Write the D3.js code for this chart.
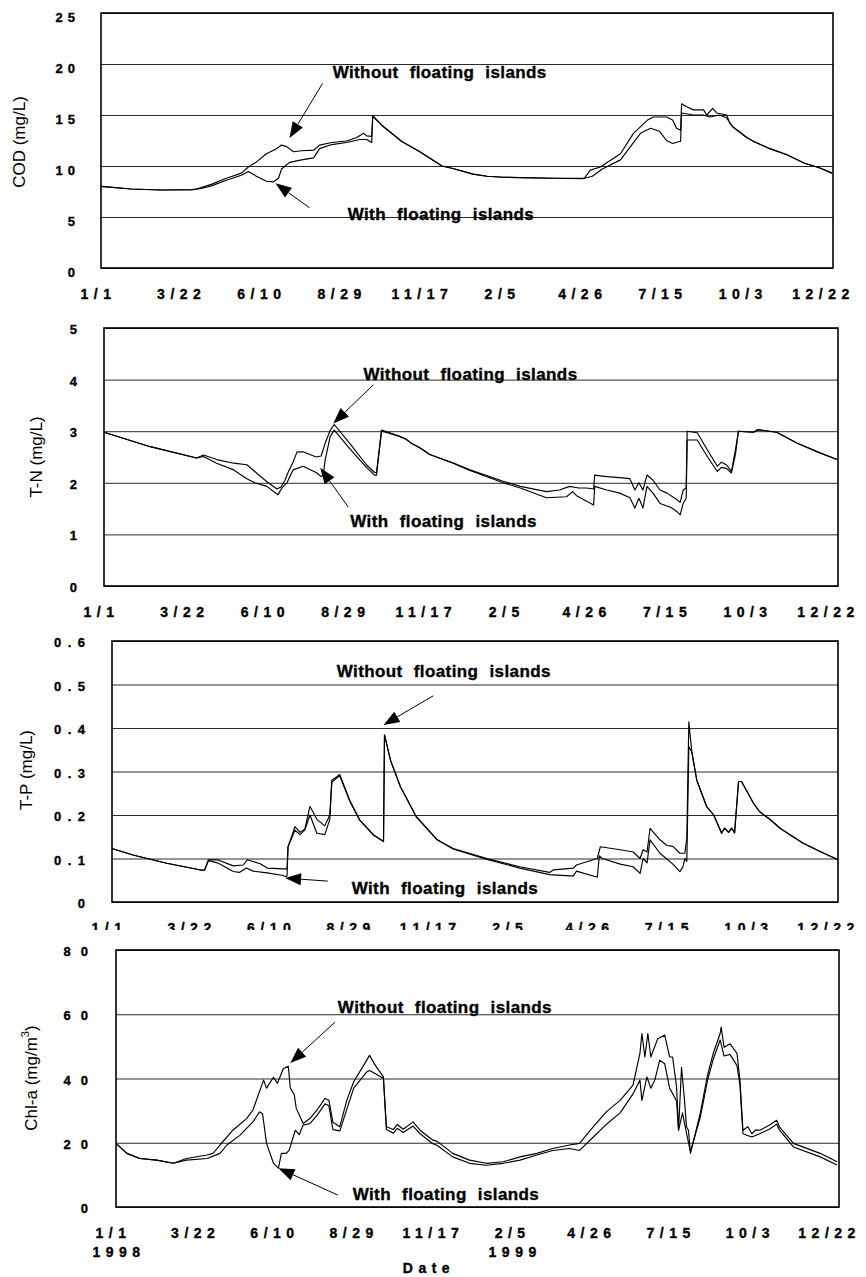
<!DOCTYPE html>
<html><head><meta charset="utf-8">
<script src="https://cdn.jsdelivr.net/npm/d3@7"></script>
<style>body{margin:0;background:#fff}svg{display:block}</style>
</head><body>
<script>
// ---- DATA (day 0 = 1 Jan 1998) ----
const tickDays = [0, 80, 160, 240, 320, 400, 480, 560, 640, 720];
const tickLabels = ["1/1", "3/22", "6/10", "8/29", "11/17", "2/5", "4/26", "7/15", "10/3", "12/22"];
const yearDays = [0, 400];
const yearLabels = ["1998", "1999"];

const codTicks = [0, 5, 10, 15, 20, 25];
const tnTicks = [0, 1, 2, 3, 4, 5];
const tpTicks = [0, 0.1, 0.2, 0.3, 0.4, 0.5, 0.6];
const chlTicks = [0, 20, 40, 60, 80];

const codWithout = [[0,8.0],[30,7.75],[60,7.65],[90,7.7],[95,7.75],[110,8.2],[125,8.8],[140,9.3],[147,9.9],[155,10.4],[165,11.2],[175,11.7],[180,12.05],[185,11.9],[192,11.4],[200,11.5],[212,11.55],[218,12.05],[230,12.3],[245,12.45],[255,12.8],[262,13.2],[265,12.95],[270,12.9],[271,14.9],[280,14.0],[300,12.4],[318,11.4],[340,10.0],[351,9.75],[371,9.2],[385,9.0],[401,8.9],[451,8.8],[482,8.8],[488,9.6],[498,9.9],[518,11.2],[531,13.2],[545,14.5],[551,14.8],[564,14.8],[570,14.5],[574,13.7],[578,13.5],[579,16.1],[584,15.8],[591,15.5],[601,15.5],[604,15.0],[610,15.65],[614,15.2],[624,15.0],[627,14.2],[630,13.85],[644,12.8],[651,12.4],[667,11.7],[684,11.1],[701,10.3],[717,9.8],[729,9.3]];
const codWith = [[0,8.0],[30,7.75],[60,7.65],[90,7.65],[100,7.8],[110,8.05],[125,8.6],[140,9.1],[147,9.45],[155,9.0],[165,8.5],[172,8.45],[177,8.8],[180,9.7],[188,10.35],[200,10.6],[212,10.8],[218,11.7],[230,12.1],[245,12.3],[258,12.6],[265,12.6],[270,12.3],[271,14.9],[280,14.0],[300,12.4],[318,11.4],[340,10.0],[351,9.75],[371,9.2],[385,9.0],[401,8.9],[451,8.8],[480,8.75],[490,9.0],[500,9.7],[518,10.6],[528,11.9],[538,13.2],[548,13.7],[557,13.4],[564,12.5],[570,12.2],[577,12.4],[578,12.4],[579,15.2],[591,15.0],[601,15.0],[607,14.8],[617,15.0],[624,14.7],[630,13.85],[644,12.8],[651,12.4],[667,11.7],[684,11.1],[701,10.3],[717,9.8],[729,9.3]];

const tnWithout = [[0,2.98],[46,2.7],[92,2.48],[99,2.54],[112,2.45],[129,2.38],[142,2.35],[150,2.22],[162,2.02],[172,1.88],[176,1.92],[180,2.05],[183,2.2],[188,2.4],[192,2.6],[198,2.6],[211,2.5],[216,2.52],[220,2.77],[225,3.02],[229,3.13],[245,2.75],[261,2.35],[269,2.2],[271,2.2],[276,3.02],[280,3.0],[294,2.9],[300,2.85],[307,2.75],[314,2.68],[324,2.55],[347,2.39],[364,2.25],[397,2.03],[414,1.93],[440,1.83],[453,1.86],[463,1.93],[472,1.9],[480,1.9],[487,1.88],[488,2.15],[500,2.12],[513,2.1],[523,2.08],[528,1.86],[532,2.0],[536,1.86],[540,2.15],[546,2.05],[553,1.86],[560,1.8],[570,1.67],[573,1.62],[576,1.86],[579,1.9],[580,3.0],[590,2.97],[600,2.64],[610,2.32],[614,2.4],[619,2.35],[624,2.22],[628,2.64],[631,3.0],[646,2.98],[650,3.03],[669,2.98],[689,2.77],[712,2.58],[729,2.45]];
const tnWith = [[0,2.98],[46,2.7],[92,2.48],[99,2.51],[112,2.38],[129,2.25],[142,2.08],[150,2.0],[162,1.93],[173,1.77],[177,1.9],[182,2.0],[188,2.25],[198,2.32],[211,2.2],[216,2.12],[218,2.15],[220,2.45],[225,2.9],[229,3.02],[245,2.65],[261,2.3],[269,2.15],[271,2.15],[276,3.0],[280,2.98],[294,2.9],[300,2.85],[307,2.75],[314,2.68],[324,2.55],[347,2.38],[364,2.24],[397,2.0],[414,1.9],[440,1.71],[460,1.73],[466,1.83],[470,1.75],[487,1.57],[488,1.93],[500,1.86],[513,1.8],[523,1.71],[528,1.51],[532,1.7],[536,1.51],[540,1.93],[546,1.8],[553,1.6],[564,1.52],[570,1.44],[573,1.38],[576,1.6],[579,1.7],[580,2.83],[590,2.83],[600,2.51],[610,2.22],[614,2.3],[619,2.28],[624,2.19],[628,2.55],[631,3.0],[646,2.98],[650,3.03],[669,2.98],[689,2.77],[712,2.58],[729,2.45]];

const tpWithout = [[0,0.123],[21,0.108],[55,0.089],[88,0.074],[93,0.073],[97,0.097],[106,0.097],[122,0.083],[132,0.085],[136,0.097],[149,0.088],[156,0.078],[172,0.076],[176,0.076],[177,0.127],[184,0.173],[189,0.16],[194,0.168],[199,0.22],[206,0.19],[214,0.175],[219,0.2],[221,0.28],[226,0.288],[229,0.293],[239,0.234],[249,0.189],[263,0.154],[273,0.139],[274,0.384],[280,0.326],[290,0.265],[306,0.196],[327,0.143],[343,0.123],[377,0.1],[410,0.081],[440,0.068],[444,0.074],[464,0.078],[467,0.085],[488,0.1],[491,0.127],[511,0.12],[524,0.115],[531,0.1],[534,0.12],[538,0.115],[541,0.169],[551,0.143],[558,0.13],[564,0.128],[571,0.112],[576,0.112],[578,0.147],[580,0.414],[583,0.345],[588,0.28],[598,0.219],[605,0.2],[613,0.158],[616,0.17],[620,0.16],[623,0.17],[626,0.159],[630,0.277],[633,0.277],[645,0.227],[651,0.208],[662,0.189],[672,0.169],[695,0.135],[712,0.116],[730,0.097]];
const tpWith = [[0,0.123],[21,0.108],[55,0.089],[88,0.074],[93,0.073],[97,0.095],[106,0.09],[122,0.07],[128,0.068],[135,0.078],[142,0.071],[156,0.067],[172,0.061],[175,0.058],[176,0.06],[177,0.127],[184,0.165],[189,0.155],[194,0.166],[199,0.2],[206,0.158],[214,0.155],[219,0.19],[221,0.275],[226,0.285],[229,0.29],[239,0.232],[249,0.188],[263,0.154],[273,0.139],[274,0.384],[280,0.326],[290,0.265],[306,0.196],[327,0.143],[343,0.122],[377,0.098],[410,0.078],[440,0.063],[460,0.06],[464,0.06],[467,0.071],[488,0.057],[490,0.106],[493,0.1],[511,0.087],[524,0.081],[531,0.066],[534,0.1],[538,0.09],[541,0.143],[551,0.112],[564,0.087],[571,0.07],[574,0.08],[576,0.1],[578,0.093],[580,0.357],[583,0.345],[588,0.28],[598,0.219],[605,0.2],[613,0.158],[616,0.17],[620,0.16],[623,0.17],[626,0.159],[630,0.277],[633,0.277],[645,0.227],[651,0.208],[662,0.189],[672,0.169],[695,0.135],[712,0.116],[730,0.097]];

const chlWithout = [[0,19.8],[11,16.7],[24,15.1],[41,14.6],[58,13.6],[71,15.1],[92,16.2],[98,16.7],[105,19.3],[118,23.9],[132,27.6],[138,30],[149,39.5],[152,37],[159,40.4],[163,38.5],[169,43.1],[174,43.8],[176,37],[180,35],[182,30.7],[189,26],[196,27.6],[203,30.2],[211,33.8],[215,33.2],[219,26.4],[226,25],[233,33.2],[240,39],[250,44.1],[256,47.2],[262,44],[270,40.5],[273,25],[280,24.1],[284,25.7],[290,24.2],[300,26.5],[307,23.9],[320,20.8],[324,20.5],[340,16.7],[357,14.6],[374,13.6],[391,14.1],[408,15.6],[425,16.7],[441,18.2],[458,19.3],[468,19.8],[482,25],[495,29.6],[509,33.2],[522,37.9],[529,47.8],[531,54],[534,46.7],[537,54],[540,46.7],[547,52.4],[554,53.5],[559,46.7],[562,46.7],[566,37.4],[568,23.9],[571,43.5],[574,33.2],[576,25],[578,23.9],[580,16.7],[590,29.3],[597,40.7],[603,47.8],[610,54],[611,56],[614,49.7],[620,50.8],[627,47.8],[630,39.5],[633,23.9],[638,25],[642,22.8],[646,24],[650,23.9],[660,25.5],[667,27],[670,24.9],[684,19.8],[711,16.7],[728,14.1]];
const chlWith = [[0,19.8],[11,16.7],[24,15.1],[41,14.6],[58,13.6],[71,14.6],[92,15.1],[105,16.7],[112,19.3],[125,22.3],[138,26.4],[145,29.6],[148,29],[152,19.8],[159,13.6],[164,12.1],[167,16.7],[172,16.7],[175,17.8],[181,23.9],[185,22.5],[189,25.5],[196,26],[203,28.5],[211,32.1],[215,31.5],[219,24.1],[226,23.7],[240,37],[253,42],[256,42.5],[262,41.5],[270,40],[273,24.1],[280,23],[284,24.5],[290,23.2],[300,25.2],[307,22.8],[320,19.7],[324,19.2],[340,15.6],[357,13.6],[374,13],[391,13.6],[408,14.6],[425,16.2],[441,17.6],[458,18.2],[468,17.6],[482,21.8],[495,25.7],[509,29.3],[522,35.2],[529,39.5],[531,33.2],[536,40.5],[540,37],[544,39.5],[549,45.7],[554,44.6],[559,37],[566,33],[568,23.9],[572,29.3],[576,23],[580,17.2],[590,28],[597,39],[603,46],[610,52],[614,47],[620,47.5],[627,44],[630,38],[633,22.8],[642,21.8],[650,22.8],[660,24.3],[667,25.8],[670,23.9],[684,18.7],[711,15.6],[728,13.1]];

const seriesNames = ["Without floating islands", "With floating islands"];
// annotation anchors in data units: [textPos, arrowStart, arrowTip]
const annCOD = [[[231,18.6],[221,18.1],[188,12.75]], [[246,4.7],[208,5.9],[174,8.3]]];
const annTN  = [[[258,3.99],[268,3.9],[228,3.15]], [[245,1.14],[243,1.53],[215,2.29]]];
const annTP  = [[[226,0.517],[323,0.474],[273,0.407]], [[241,0.018],[217,0.048],[174,0.055]]];
const annCHL = [[[224,60.3],[221,57.5],[176,44.8]], [[239,2.2],[224,3.7],[164,12.1]]];

// ---- LAYOUT ----
const W = 866, H = 1277;
const FONT = "'Liberation Sans', Arial, Helvetica, sans-serif";
const panels = [
  {title:["COD (mg/L)"], series:[codWithout, codWith], ticks:codTicks, ann:annCOD, fmt:d=>String(d),
   L:101, R:833, T:13, B:268, tickRight:75, tickLS:5, tickDy:8.3, titleX:19, titleY:142},
  {title:["T-N (mg/L)"], series:[tnWithout, tnWith], ticks:tnTicks, ann:annTN, fmt:d=>String(d),
   L:104, R:838, T:328, B:586, tickRight:77, tickLS:5, tickDy:5.5, titleX:36, titleY:457},
  {title:["T-P (mg/L)"], series:[tpWithout, tpWith], ticks:tpTicks, ann:annTP, fmt:d=>d===0?"0":d.toFixed(1),
   L:112, R:838, T:641, B:902, tickRight:85, tickLS:6.5, tickDy:5.5, titleX:26, titleY:770, clipX:930},
  {title:["Chl-a (mg/m","3",")"], series:[chlWithout, chlWith], ticks:chlTicks, ann:annCHL, fmt:d=>String(d),
   L:116, R:839, T:950, B:1207, tickRight:88, tickLS:10, tickDy:5.5, titleX:31, titleY:1078, years:true}
];

const svg = d3.select("body").append("svg").attr("width", W).attr("height", H)
  .style("font-family", FONT);
const defs = svg.append("defs");

function boldText(sel, size, ls) {
  return sel.style("font-family", FONT).style("font-size", size + "px").style("font-weight", "bold")
    .style("letter-spacing", ls + "px").attr("fill", "#000")
    .attr("stroke", "#000").attr("stroke-width", 0.35);
}

panels.forEach((p, pi) => {
  const x = d3.scaleLinear().domain([0, 730]).range([p.L, p.R]);
  const y = d3.scaleLinear().domain([0, d3.max(p.ticks)]).range([p.B, p.T]);
  const g = svg.append("g");

  // gridlines + y tick labels via axis
  const yAxis = g.append("g").attr("transform", `translate(${p.L},0)`)
    .call(d3.axisLeft(y).tickValues(p.ticks).tickFormat(p.fmt).tickSize(-(p.R - p.L)));
  yAxis.select(".domain").remove();
  yAxis.selectAll(".tick line").attr("stroke", "#2a2a2a").attr("stroke-width", 1);
  boldText(yAxis.selectAll(".tick text"), 13, p.tickLS)
    .attr("x", p.tickRight + p.tickLS - p.L).attr("dy", null).attr("y", p.tickDy)
    .attr("text-anchor", "end");

  // x tick labels via axis
  let xg = g.append("g").attr("transform", `translate(0,${p.B})`);
  if (p.clipX) {
    defs.append("clipPath").attr("id", "clip" + pi).append("rect")
      .attr("x", 0).attr("y", 0).attr("width", W).attr("height", p.clipX - p.B);
    xg.attr("clip-path", `url(#clip${pi})`);
  }
  xg.call(d3.axisBottom(x).tickValues(tickDays).tickFormat((d, i) => tickLabels[i]).tickSize(0));
  xg.select(".domain").remove();
  boldText(xg.selectAll(".tick text"), 14, 5.5)
    .attr("y", 31).attr("dy", null).attr("dx", (d, i) => i === 0 ? -3 : 0);

  // plot frame
  g.append("rect").attr("x", p.L).attr("y", p.T).attr("width", p.R - p.L).attr("height", p.B - p.T)
    .attr("fill", "none").attr("stroke", "#000").attr("stroke-width", 1.6);

  // series lines
  const line = d3.line().x(d => x(d[0])).y(d => y(d[1]));
  p.series.forEach(s => {
    g.append("path").datum(s).attr("d", line).attr("fill", "none")
      .attr("stroke", "#000").attr("stroke-width", 1.15).attr("stroke-linejoin", "round");
  });

  // y title
  const t = g.append("text").attr("transform", `translate(${p.titleX},${p.titleY}) rotate(-90)`)
    .attr("text-anchor", "middle").attr("dominant-baseline", "central")
    .style("font-size", "17px").attr("fill", "#000");
  t.append("tspan").text(p.title[0]);
  if (p.title.length > 1) {
    t.append("tspan").attr("baseline-shift", "super").style("font-size", "11px").text(p.title[1]);
    t.append("tspan").text(p.title[2]);
  }

  // annotations
  p.ann.forEach((a, ai) => {
    boldText(g.append("text"), 17, 0.4).style("word-spacing", "6px")
      .attr("x", x(a[0][0])).attr("y", y(a[0][1])).text(seriesNames[ai]);
    const x1 = x(a[1][0]), y1 = y(a[1][1]), x2 = x(a[2][0]), y2 = y(a[2][1]);
    const ang = Math.atan2(y2 - y1, x2 - x1);
    const len = 16, hw = 6;
    const bx = x2 - len * Math.cos(ang), by = y2 - len * Math.sin(ang);
    g.append("line").attr("x1", x1).attr("y1", y1).attr("x2", bx).attr("y2", by)
      .attr("stroke", "#000").attr("stroke-width", 1);
    const pts = [[x2, y2],
      [bx + hw * Math.sin(ang), by - hw * Math.cos(ang)],
      [bx - hw * Math.sin(ang), by + hw * Math.cos(ang)]];
    g.append("polygon").attr("points", pts.map(q => q.join(",")).join(" ")).attr("fill", "#000");
  });

  if (p.years) {
    boldText(g.selectAll(".year").data(yearDays).enter().append("text"), 14, 5.5)
      .attr("x", d => x(d) + 3).attr("y", p.B + 50).attr("text-anchor", "middle")
      .text((d, i) => yearLabels[i]);
    boldText(g.append("text"), 14, 5.5)
      .attr("x", 429).attr("y", p.B + 66).attr("text-anchor", "middle").text("Date");
  }
});
</script>
</body></html>
